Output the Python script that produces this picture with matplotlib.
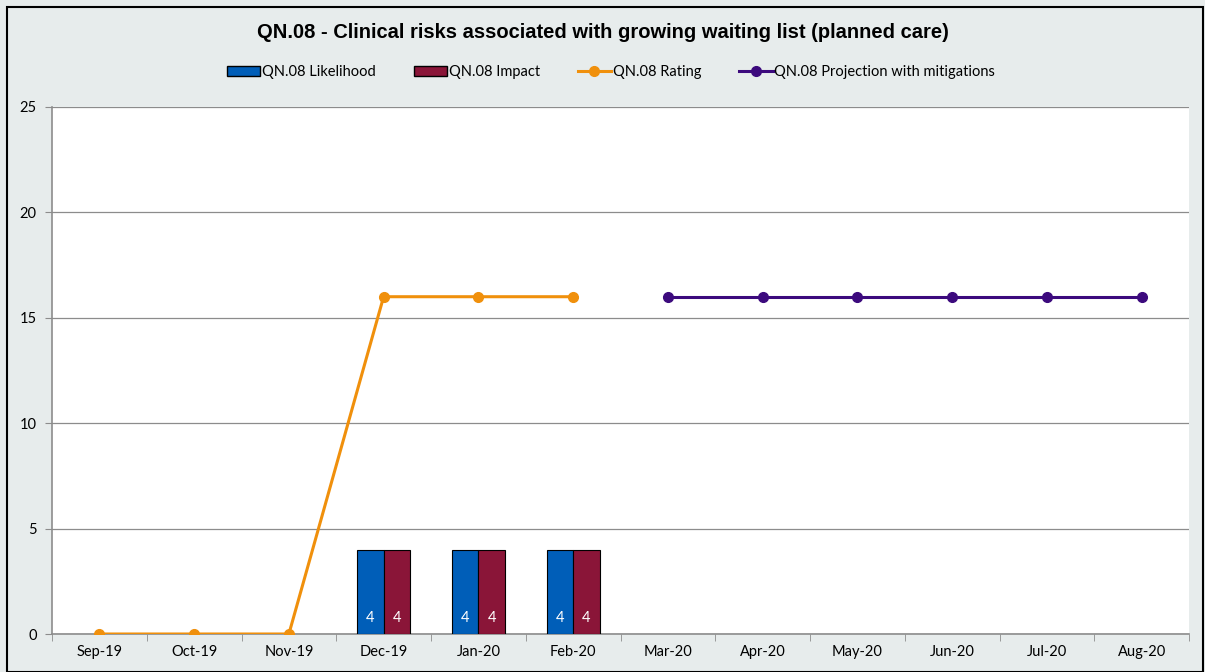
import matplotlib.pyplot as plt
import matplotlib.patches as mpatches
from matplotlib.lines import Line2D
import numpy as np

months = ["Sep-19", "Oct-19", "Nov-19", "Dec-19", "Jan-20", "Feb-20",
          "Mar-20", "Apr-20", "May-20", "Jun-20", "Jul-20", "Aug-20"]
likelihood = [None, None, None, 4, 4, 4, None, None, None, None, None, None]
impact = [None, None, None, 4, 4, 4, None, None, None, None, None, None]
rating = [0, 0, 0, 16, 16, 16, None, None, None, None, None, None]
projection = [None, None, None, None, None, None, 16, 16, 16, 16, 16, 16]

c_blue = "#005eb8"
c_red = "#8a1538"
c_orange = "#f0900c"
c_purple = "#3c0a7d"
bg = "#e7ecec"

plt.rcParams["font.family"] = ["Lato", "DejaVu Sans"]

fig = plt.figure(figsize=(12.05, 6.72), dpi=100, facecolor=bg)
ax = fig.add_axes([52 / 1205, 1 - 634 / 672, (1189 - 52) / 1205, (634 - 107) / 672])
ax.set_facecolor("white")

x = np.arange(len(months))
w = 0.28
for i in range(len(months)):
    if likelihood[i] is not None:
        ax.bar(x[i] - w / 2, likelihood[i], w, color=c_blue, edgecolor="black", linewidth=0.8, zorder=3)
        ax.text(x[i] - w / 2, 0.75, str(likelihood[i]), color="white", ha="center", va="center", fontsize=10.5, zorder=4)
    if impact[i] is not None:
        ax.bar(x[i] + w / 2, impact[i], w, color=c_red, edgecolor="black", linewidth=0.8, zorder=3)
        ax.text(x[i] + w / 2, 0.75, str(impact[i]), color="white", ha="center", va="center", fontsize=10.5, zorder=4)

r = np.array([np.nan if v is None else v for v in rating], dtype=float)
p = np.array([np.nan if v is None else v for v in projection], dtype=float)
ax.plot(x, r, color=c_orange, lw=2.2, marker="o", ms=7, zorder=5)
ax.plot(x, p, color=c_purple, lw=2.2, marker="o", ms=7, zorder=5)

ax.set_xlim(-0.5, len(months) - 0.5)
ax.set_ylim(0, 25)
ax.set_yticks([0, 5, 10, 15, 20, 25])
ax.grid(axis="y", color="#8c8c8c", lw=0.9, zorder=0)
ax.set_xticks(x)
ax.set_xticklabels(months, fontsize=10.5)
ax.set_xticks(np.arange(-0.5, len(months), 1), minor=True)
ax.tick_params(axis="x", which="major", length=0, pad=8)
ax.tick_params(axis="x", which="minor", length=5, color="#8c8c8c", direction="out")
ax.tick_params(axis="y", length=5, color="#8c8c8c", labelsize=10.5, pad=6)
for s in ["top", "right"]:
    ax.spines[s].set_visible(False)
for s in ["left", "bottom"]:
    ax.spines[s].set_color("#8c8c8c")
    ax.spines[s].set_linewidth(1.2)

fig.text(0.5, 1 - 33 / 672, "QN.08 - Clinical risks associated with growing waiting list (planned care)",
         ha="center", va="center", fontsize=14.5, fontweight="bold", family=["Liberation Sans", "DejaVu Sans"])

handles = [
    mpatches.Patch(facecolor=c_blue, edgecolor="black", label="QN.08 Likelihood"),
    mpatches.Patch(facecolor=c_red, edgecolor="black", label="QN.08 Impact"),
    Line2D([], [], color=c_orange, lw=2.2, marker="o", ms=7, label="QN.08 Rating"),
    Line2D([], [], color=c_purple, lw=2.2, marker="o", ms=7, label="QN.08 Projection with mitigations"),
]
fig.legend(handles=handles, loc="center", bbox_to_anchor=(0.507, 1 - 72 / 672), ncol=4, frameon=False,
           fontsize=10.5, handlelength=2.3, handletextpad=0.1, columnspacing=2.6)

fig.patches.append(mpatches.Rectangle((7 / 1205, 0), 1 - 9 / 1205, 1 - 7 / 672, transform=fig.transFigure,
                                      fill=False, edgecolor="black", lw=1.5))

fig.savefig("out.png", dpi=100, facecolor=bg)
